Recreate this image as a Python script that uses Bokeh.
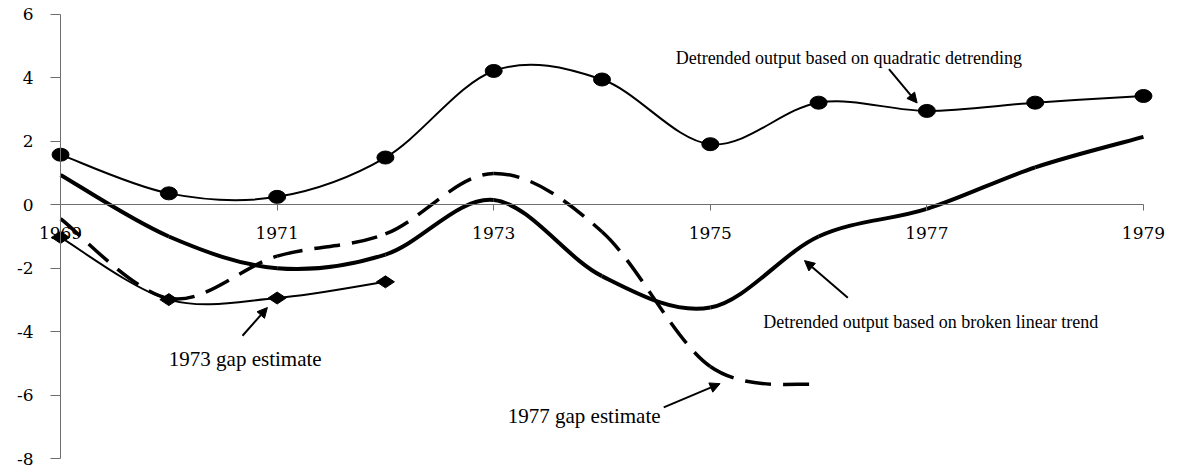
import numpy as np
from bokeh.plotting import figure
from bokeh.models import FixedTicker, Arrow, NormalHead, ColumnDataSource
from bokeh.core.properties import value
from bokeh.embed import file_html
from bokeh.resources import INLINE

# ---------------- data ----------------
years = [1969, 1970, 1971, 1972, 1973, 1974, 1975, 1976, 1977, 1978, 1979]
quadratic = [1.58, 0.36, 0.25, 1.49, 4.22, 3.95, 1.91, 3.22, 2.96, 3.22, 3.43]
broken = [0.94, -1.00, -2.00, -1.57, 0.15, -2.25, -3.24, -1.00, -0.13, 1.18, 2.14]
gap1977_years = [1969, 1970, 1971, 1972, 1973, 1974, 1975, 1976]
gap1977 = [-0.44, -2.95, -1.62, -0.92, 0.99, -0.85, -5.10, -5.68]
gap1973_years = [1969, 1970, 1971, 1972]
gap1973 = [-1.03, -2.99, -2.94, -2.43]

x_ticks = [1969, 1971, 1973, 1975, 1977, 1979]
x_tick_labels = ["1969", "1971", "1973", "1975", "1977", "1979"]
y_ticks = [-8, -6, -4, -2, 0, 2, 4, 6]
y_tick_labels = ["-8", "-6", "-4", "-2", "0", "2", "4", "6"]

labels = ["Detrended output based on quadratic detrending",
          "Detrended output based on broken linear trend",
          "1973 gap estimate",
          "1977 gap estimate"]


def smooth_segments(xs, ys):
    """Catmull-Rom style Bezier control points (Excel-like smoothing)."""
    xs = np.asarray(xs, float)
    ys = np.asarray(ys, float)
    n = len(xs)
    d = dict(x0=[], y0=[], x1=[], y1=[], cx0=[], cy0=[], cx1=[], cy1=[])
    for i in range(n - 1):
        im = max(i - 1, 0)
        ip = min(i + 2, n - 1)
        d["x0"].append(xs[i]); d["y0"].append(ys[i])
        d["x1"].append(xs[i + 1]); d["y1"].append(ys[i + 1])
        d["cx0"].append(xs[i] + (xs[i + 1] - xs[im]) / 6)
        d["cy0"].append(ys[i] + (ys[i + 1] - ys[im]) / 6)
        d["cx1"].append(xs[i + 1] - (xs[ip] - xs[i]) / 6)
        d["cy1"].append(ys[i + 1] - (ys[ip] - ys[i]) / 6)
    return ColumnDataSource(d)


# frame padded around the data box so the axis labels (drawn inside the frame) are not clipped
p = figure(width=1199, height=472, x_range=(1968.464, 1979.499), y_range=(-8.378, 6.378),
           output_backend="svg", toolbar_location=None,
           min_border_left=2, min_border_right=2,
           min_border_top=2, min_border_bottom=2)
p.outline_line_color = None
p.xgrid.visible = False
p.ygrid.visible = False
p.background_fill_color = "white"
p.border_fill_color = "white"

bez = dict(x0="x0", y0="y0", x1="x1", y1="y1", cx0="cx0", cy0="cy0", cx1="cx1", cy1="cy1")

# quadratic detrending: thin line + circles
p.bezier(source=smooth_segments(years, quadratic), line_color="black", line_width=2, **bez)
p.ellipse(x=years, y=quadratic, width=17, height=13, width_units="screen",
          height_units="screen", fill_color="black", line_color="black")

# broken linear trend: thick line
p.bezier(source=smooth_segments(years, broken), line_color="black", line_width=4, **bez)

# 1977 gap estimate: thick dashed
p.bezier(source=smooth_segments(gap1977_years, gap1977), line_color="black",
         line_width=3.5, line_dash="26 12", **bez)

# 1973 gap estimate: thin line + diamonds
p.bezier(source=smooth_segments(gap1973_years, gap1973), line_color="black", line_width=2, **bez)
p.scatter(x=gap1973_years, y=gap1973, marker="diamond", size=18, angle=np.pi / 2,
          fill_color="black", line_color="black")

# annotation texts
p.text(x=[1974.68], y=[4.62], text=[labels[0]], text_font=value("Liberation Serif"),
       text_font_size=value("18px"), text_baseline="alphabetic", text_align="left", text_color="black")
p.text(x=[1975.49], y=[-3.71], text=[labels[1]], text_font=value("Liberation Serif"),
       text_font_size=value("18px"), text_baseline="alphabetic", text_align="left", text_color="black")
p.text(x=[1970.0, 1973.13], y=[-4.85, -6.65], text=[labels[2], labels[3]],
       text_font=value("Liberation Serif"), text_font_size=value("21px"),
       text_baseline="alphabetic", text_align="left", text_color="black")

# arrows
for xs, ys, xe, ye in [(1976.65, 4.28, 1976.91, 3.21),
                       (1976.27, -2.93, 1975.87, -1.76),
                       (1970.68, -4.13, 1970.91, -3.24),
                       (1974.57, -6.39, 1975.09, -5.64)]:
    p.add_layout(Arrow(end=NormalHead(size=10, fill_color="black", line_color="black"),
                       x_start=xs, y_start=ys, x_end=xe, y_end=ye,
                       line_color="black", line_width=2))

# axes
axis_gray = "#6e6e6e"
p.xaxis.fixed_location = 0
p.xaxis.bounds = (1969, 1979)
p.xaxis.ticker = FixedTicker(ticks=x_ticks)
p.xaxis.major_label_overrides = {t: l for t, l in zip(x_ticks, x_tick_labels)}
p.xaxis.major_tick_out = 6
p.xaxis.major_tick_in = 0
p.xaxis.minor_tick_line_color = None
p.xaxis.major_label_standoff = 16
p.yaxis.fixed_location = 1969
p.yaxis.bounds = (-8, 6)
p.yaxis.ticker = FixedTicker(ticks=y_ticks)
p.yaxis.major_label_overrides = {t: l for t, l in zip(y_ticks, y_tick_labels)}
p.yaxis.major_tick_out = 10
p.yaxis.major_tick_in = 0
p.yaxis.minor_tick_line_color = None
p.yaxis.major_label_standoff = 17
for ax in (p.xaxis, p.yaxis):
    ax.axis_line_color = axis_gray
    ax.major_tick_line_color = axis_gray
    ax.major_label_text_font = "DejaVu Serif"
    ax.major_label_text_font_size = "17px"
    ax.major_label_text_color = "black"

open("out.html", "w").write(file_html(p, INLINE))
